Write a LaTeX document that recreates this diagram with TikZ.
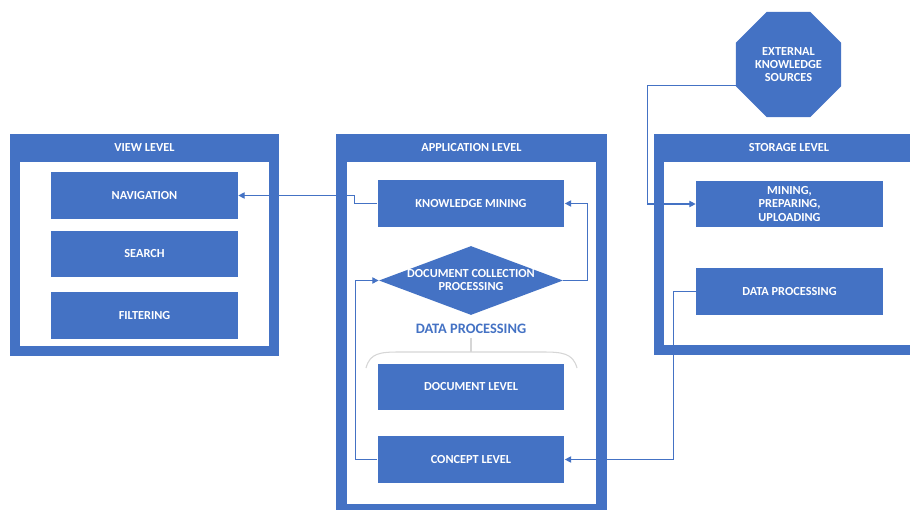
\documentclass[tikz,border=0pt]{standalone}
\usepackage{fontspec}
\setmainfont{Carlito}
\usetikzlibrary{shapes.geometric, arrows.meta, positioning}
\definecolor{officeblue}{RGB}{68,114,196}
\definecolor{bracegray}{RGB}{214,214,214}

\begin{document}
\begin{tikzpicture}[x=0.02cm, y=-0.02cm,
    frame/.style ={rectangle, fill=officeblue, draw=none, inner sep=0pt},
    inner/.style ={rectangle, fill=white, draw=none, inner sep=0pt},
    title/.style ={font=\fontsize{7}{7.6}\selectfont\bfseries,
                   text=white, inner sep=0pt},
    box/.style   ={rectangle, fill=officeblue, draw=none, text=white,
                   minimum width=3.74cm, minimum height=0.94cm,
                   align=center, inner sep=1pt,
                   font=\fontsize{7}{7.6}\selectfont\bfseries},
    decision/.style={diamond, fill=officeblue, draw=none, text=white,
                   minimum width=3.68cm, minimum height=1.38cm,
                   aspect=2.67, align=center, inner sep=0pt,
                   font=\fontsize{7}{7.4}\selectfont\bfseries},
    source/.style={regular polygon, regular polygon sides=8,
                   fill=officeblue, draw=none, text=white,
                   minimum size=2.28cm, align=center, inner sep=0pt,
                   font=\fontsize{7}{7.6}\selectfont\bfseries},
    arrow/.style ={-{Triangle[length=3.6pt,width=3.6pt]},
                   line width=0.6pt, officeblue}
]
\useasboundingbox (0,0) rectangle (910,510);

% ============================================================
% VIEW LEVEL
% ============================================================

\node[frame, minimum width=5.39cm, minimum height=4.44cm] (view)   at (144.25,245) {};
\node[inner, minimum width=4.98cm, minimum height=3.68cm] (viewin) at (144.5,254)  {};
\node[title] (vt) at (144.5,148) {VIEW LEVEL};

\node[box] (nav)    at (144.5,195.5) {NAVIGATION};
\node[box] (search) at (144.5,254)   {SEARCH};
\node[box] (filter) at (144.5,315.5) {FILTERING};

% ============================================================
% APPLICATION LEVEL
% ============================================================

\node[frame, minimum width=5.42cm, minimum height=7.62cm] (app)   at (471.5,324.5) {};
\node[inner, minimum width=4.98cm, minimum height=6.84cm] (appin) at (471.5,333)   {};
\node[title] (at) at (471.5,148) {APPLICATION LEVEL};

\node[box]      (km)  at (471,203.5) {KNOWLEDGE MINING};
\node[decision] (dcp) at (471,280.5) {DOCUMENT COLLECTION\\PROCESSING};

% -- data processing (brace) --
\node[font=\fontsize{8.2}{9}\selectfont\bfseries, text=officeblue, inner sep=0pt]
      (dp) at (471,329) {DATA PROCESSING};
\coordinate (brc) at (471,352);
\draw[bracegray, line width=0.6pt] (dp.south) ++(0,4) -- (brc);
\draw[bracegray, line width=0.6pt]
      (366,368) .. controls (370,353) and (380,352) .. (400,352)
      -- (542,352) .. controls (562,352) and (573,353) .. (577,368);

\node[box] (doc)     at (471,387)   {DOCUMENT LEVEL};
\node[box] (concept) at (471,459.5) {CONCEPT LEVEL};

% ============================================================
% STORAGE LEVEL
% ============================================================

\node[frame, minimum width=5.4cm, minimum height=4.42cm] (store)   at (789,244.5) {};
\node[inner, minimum width=5cm,   minimum height=3.66cm] (storein) at (789,253.5) {};
\node[title] (st) at (789,148) {STORAGE LEVEL};

\node[box] (mining) at (789.5,204)   {MINING,\\PREPARING,\\UPLOADING};
\node[box] (sdp)    at (789.5,291.5) {DATA PROCESSING};

\node[source] (ext) at (788.5,64.5) {EXTERNAL\\KNOWLEDGE\\SOURCES};

% ============================================================
% ARROWS
% ============================================================

% knowledge mining -> navigation
\draw[arrow] (km.west)      -- ++(-23,0) |- (nav.east);

% document collection -> knowledge mining
\draw[arrow] (dcp.east)     -- ++(24,0)  |- (km.east);

% concept level -> document collection
\draw[arrow] (concept.west) -- ++(-22,0) |- (dcp.west);

% storage data processing -> concept level
\draw[arrow] (sdp.west)     -- ++(-22,0) |- (concept.east);

% external sources -> mining
\draw[arrow] (ext.202.5)    -- ++(-88,0) |- (mining.west);

\end{tikzpicture}
\end{document}
